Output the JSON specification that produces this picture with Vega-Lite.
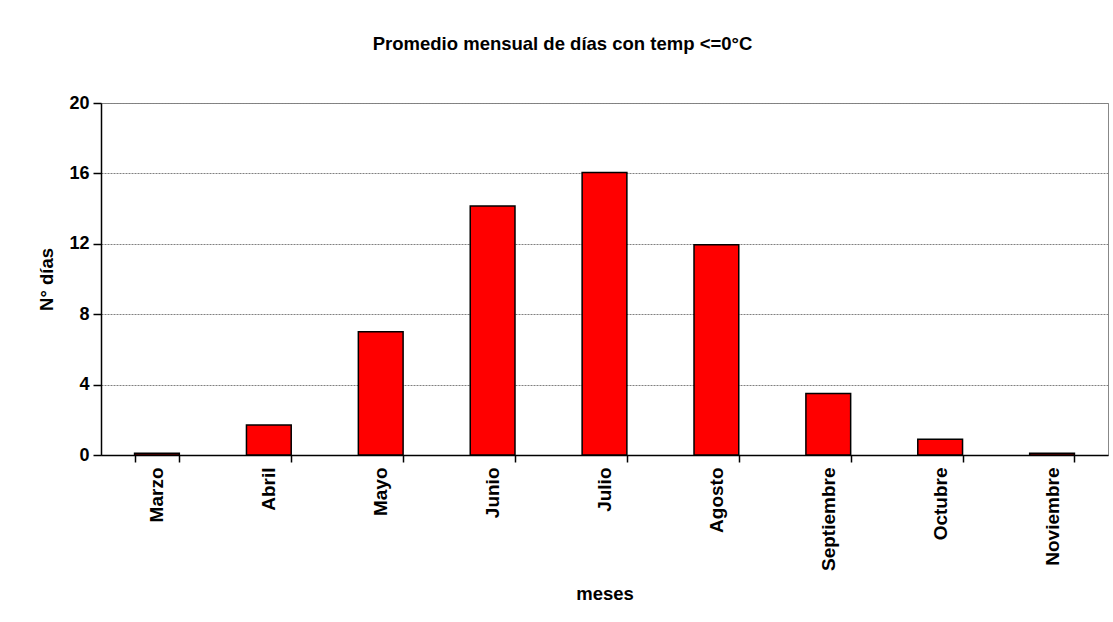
{
  "$schema": "https://vega.github.io/schema/vega-lite/v6.json",
  "width": 1007,
  "height": 352,
  "autosize": {"type": "none"},
  "padding": {"left": 101, "top": 103, "right": 5, "bottom": 167},
  "background": "white",
  "config": {
    "font": "Liberation Sans",
    "view": {"stroke": "#888888", "strokeWidth": 1},
    "axis": {"labelFont": "Liberation Sans", "titleFont": "Liberation Sans", "labelFontWeight": "bold", "titleFontWeight": "bold", "labelColor": "black", "titleColor": "black", "domainColor": "black", "tickColor": "black", "domainWidth": 1.5, "tickWidth": 1.5}
  },
  "title": {
    "text": "Promedio mensual de días con temp <=0°C",
    "font": "Liberation Sans",
    "fontSize": 18.5,
    "fontWeight": "bold",
    "color": "black",
    "anchor": "middle",
    "dx": -42,
    "offset": 41
  },
  "data": {
    "values": [
      {"mes": "Marzo", "dias": 0.1},
      {"mes": "Abril", "dias": 1.7},
      {"mes": "Mayo", "dias": 7.0},
      {"mes": "Junio", "dias": 14.15},
      {"mes": "Julio", "dias": 16.05},
      {"mes": "Agosto", "dias": 11.95},
      {"mes": "Septiembre", "dias": 3.5},
      {"mes": "Octubre", "dias": 0.9},
      {"mes": "Noviembre", "dias": 0.1}
    ]
  },
  "mark": {"type": "bar", "color": "#FF0000", "stroke": "black", "strokeWidth": 1.5},
  "encoding": {
    "x": {
      "field": "mes",
      "type": "nominal",
      "sort": null,
      "scale": {"paddingInner": 0.6, "paddingOuter": 0.3},
      "axis": {
        "title": "meses",
        "titleFontSize": 18.5,
        "titlePadding": 14,
        "labelFontSize": 19,
        "labelAngle": -90,
        "labelAlign": "right",
        "labelBaseline": "middle",
        "labelPadding": 5,
        "tickSize": 7,
        "tickBand": "extent",
        "grid": false
      }
    },
    "y": {
      "field": "dias",
      "type": "quantitative",
      "scale": {"domain": [0, 20], "nice": false},
      "axis": {
        "title": "N° días",
        "titleFontSize": 18.5,
        "titlePadding": 12,
        "labelFontSize": 18,
        "labelPadding": 4,
        "tickSize": 8,
        "values": [0, 4, 8, 12, 16, 20],
        "grid": true,
        "gridColor": "#808080",
        "gridDash": [2, 1],
        "gridWidth": 1
      }
    }
  }
}
